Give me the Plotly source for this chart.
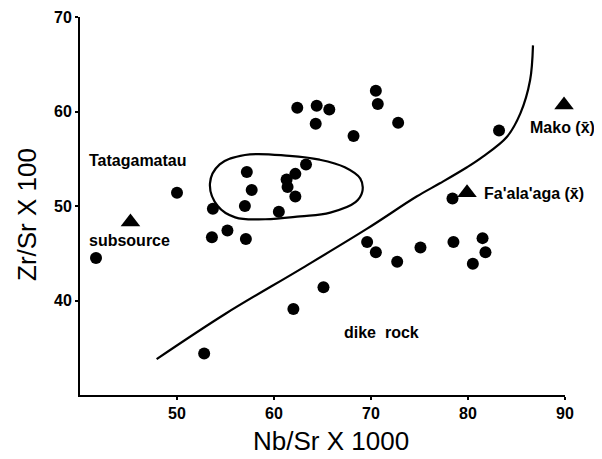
import plotly.graph_objects as go

# --- data ---
dots_x = [41.65, 50.0, 53.7, 57.2, 57.7, 57.0, 53.6, 55.2, 57.1, 60.5, 61.3, 62.2, 61.4, 62.2,
          63.3, 62.4, 64.4, 65.7, 64.3, 68.2, 70.5, 70.7, 72.8, 83.2, 78.4,
          69.6, 70.5, 72.7, 75.1, 78.5, 81.5, 81.8, 80.5, 65.1, 62.0, 52.8]
dots_y = [44.5, 51.4, 49.7, 53.6, 51.7, 50.0, 46.7, 47.4, 46.5, 49.4, 52.8, 53.4, 52.0, 51.0,
          54.4, 60.4, 60.6, 60.2, 58.7, 57.4, 62.2, 60.8, 58.8, 58.0, 50.8,
          46.2, 45.1, 44.1, 45.6, 46.2, 46.6, 45.1, 43.9, 41.4, 39.1, 34.4]

tri_x = [45.2, 79.9, 89.9]
tri_y = [48.3, 51.4, 60.7]

boundary_x = [47.9, 55.0, 62.7, 69.6, 74.7, 77.1, 79.9, 81.5, 84.0, 85.4, 86.4, 86.7]
boundary_y = [33.8, 38.6, 43.3, 47.6, 51.0, 52.4, 54.1, 55.2, 57.3, 59.8, 63.3, 67.0]

field_x = [53.4, 54.4, 57.0, 61.6, 64.7, 67.3, 68.9, 69.1, 68.4, 65.8, 62.7, 59.1, 56.0, 54.2, 53.4]
field_y = [52.4, 54.4, 55.4, 55.3, 54.9, 54.1, 52.9, 51.5, 50.4, 49.3, 48.9, 48.6, 48.8, 50.0, 52.4]

label_text = ["Tatagamatau", "subsource", "Mako (x\u0304)", "Fa'ala'aga (x\u0304)", "dike  rock"]
label_x = [46.0, 45.15, 89.7, 81.4, 71.1]
label_y = [54.8, 46.4, 58.3, 51.3, 36.6]
label_anchor = ["center", "center", "center", "left", "center"]

x_ticks = [50, 60, 70, 80, 90]
y_ticks = [40, 50, 60, 70]

FONT = "Liberation Sans, Arial, sans-serif"

fig = go.Figure()
fig.add_trace(go.Scatter(x=boundary_x, y=boundary_y, mode="lines",
                         line=dict(color="black", width=2.2, shape="spline", smoothing=1.0),
                         hoverinfo="skip", cliponaxis=False))
fig.add_trace(go.Scatter(x=field_x, y=field_y, mode="lines",
                         line=dict(color="black", width=2.2, shape="spline", smoothing=1.1),
                         hoverinfo="skip", cliponaxis=False))
fig.add_trace(go.Scatter(x=dots_x, y=dots_y, mode="markers",
                         marker=dict(symbol="circle", size=12, color="black"),
                         cliponaxis=False))
fig.add_trace(go.Scatter(x=tri_x, y=tri_y, mode="markers",
                         marker=dict(symbol="triangle-up", size=17, color="black"),
                         cliponaxis=False))

for t, x, y, a in zip(label_text, label_x, label_y, label_anchor):
    fig.add_annotation(x=x, y=y, text=t, showarrow=False, xanchor=a, yanchor="middle",
                       font=dict(family=FONT, size=16, color="black", weight="bold"))

# page body has an 8px margin: figure is 8px smaller, plot area keeps reference pixels
L, T, R, B = 72, 9, 37, 64
W, H = 594, 451
pw, ph = W - L - R, H - T - B

fig.add_annotation(xref="paper", yref="paper", x=(331 - 80) / pw, y=(395 - 441) / ph,
                   text="Nb/Sr X 1000", showarrow=False, xanchor="center", yanchor="middle",
                   font=dict(family=FONT, size=26, color="black"))
fig.add_annotation(xref="paper", yref="paper", x=(27 - 80) / pw, y=(395 - 215) / ph,
                   text="Zr/Sr X 100", showarrow=False, textangle=-90,
                   xanchor="center", yanchor="middle",
                   font=dict(family=FONT, size=26, color="black"))

fig.update_layout(
    width=W, height=H,
    margin=dict(l=L, r=R, t=T, b=B, autoexpand=False),
    plot_bgcolor="white", paper_bgcolor="white",
    showlegend=False,
    font=dict(family=FONT, color="black"),
    xaxis=dict(range=[40, 90], tickvals=x_ticks, showgrid=False, zeroline=False,
               showline=True, linecolor="black", linewidth=2,
               ticks="outside", ticklen=3, tickwidth=1.5, tickcolor="black",
               tickfont=dict(family=FONT, size=16, color="black", weight="bold")),
    yaxis=dict(range=[30, 70], tickvals=y_ticks, showgrid=False, zeroline=False,
               showline=True, linecolor="black", linewidth=2,
               ticks="outside", ticklen=3, tickwidth=1.5, tickcolor="black",
               tickfont=dict(family=FONT, size=16, color="black", weight="bold")),
)

fig.write_html("out.html")
